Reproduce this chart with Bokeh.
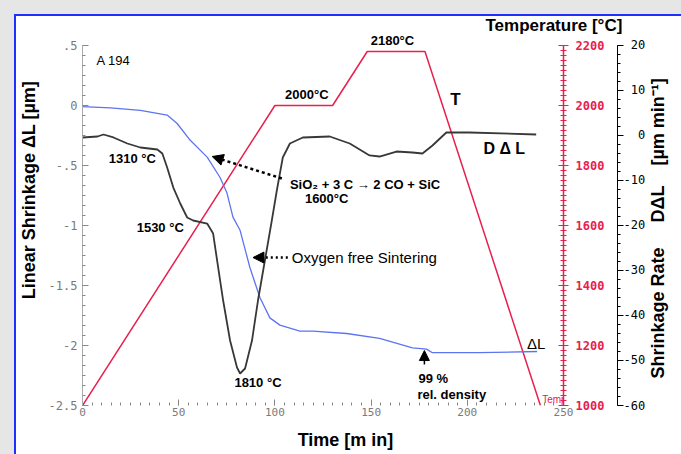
import math
from bokeh.plotting import figure
from bokeh.models import (Range1d, LinearAxis, SingleIntervalTicker, FixedTicker, Label,
                          Arrow, NormalHead, Title)
from bokeh.embed import file_html
from bokeh.resources import INLINE

# ---- data ----
time_temp = [0, 100, 130, 148, 178, 238]
temp_c = [1000, 2000, 2000, 2180, 2180, 1000]

time_dl = [0, 14.5, 30.1, 44.0, 49.2, 56.0, 64.8, 71.5, 75.1, 78.2, 81.9, 87.0, 92.2,
           97.4, 102.6, 113.0, 119.7, 137.3, 154.4, 171.5, 178.8, 181.9, 206.2, 236.3]
shrink_dl = [-0.01, -0.02, -0.04, -0.08, -0.15, -0.29, -0.43, -0.60, -0.73, -0.93, -1.04,
             -1.35, -1.60, -1.77, -1.83, -1.88, -1.88, -1.90, -1.94, -2.02, -2.03, -2.06,
             -2.06, -2.05]

time_rate = [0, 7.8, 10.9, 16.1, 23.3, 30.1, 38.9, 41.5, 44.0, 47.2, 50.8, 54.4, 57.5,
             64.8, 67.9, 70.5, 73.1, 76.7, 80.3, 81.9, 84.5, 88.1, 91.2, 94.8, 98.4, 101.0,
             104.1, 107.8, 114.5, 128.5, 138.9, 149.2, 154.4, 163.2, 171.5, 176.7, 181.9,
             189.1, 201.0, 235.8]
rate = [-0.44, -0.22, 0.22, -0.44, -1.78, -2.67, -3.11, -4.0, -7.11, -11.56, -15.11,
        -18.22, -18.89, -19.56, -21.78, -29.33, -36.67, -45.56, -51.56, -52.89, -51.78,
        -45.56, -36.67, -27.78, -18.89, -12.22, -4.89, -1.78, -0.44, -0.22, -1.78, -4.44,
        -4.67, -3.56, -3.78, -4.0, -2.22, 0.67, 0.67, 0.22]

left_tick_labels = {0.5: ".5", 0: "0", -0.5: "-.5", -1: "-1", -1.5: "-1.5", -2: "-2", -2.5: "-2.5"}
NB = "\u00a0"
rate_tick_labels = {20: NB + "20", 10: NB + "10", 0: NB + NB + "0", -10: "-10", -20: "-20",
                    -30: "-30", -40: "-40", -50: "-50", -60: "-60"}
rate_axis_title = "Shrinkage Rate" + NB * 5 + "DΔL" + NB * 4 + "[µm min⁻¹]"
shrink_axis_title = NB * 12 + "Linear Shrinkage ΔL [µm]"
time_axis_title = NB * 9 + "Time [m in]"

RED = "#e8204e"
BLUE = "#5c74f2"
DARK = "#383838"
GREY = "#7a7a7a"
SANS = "Liberation Sans"
MONO = "DejaVu Sans Mono"

# frame: x 82..563 px, y 34..405 px (axes bounded to the original ranges)
p = figure(width=681, height=454, x_range=Range1d(0, 250), y_range=Range1d(-2.5, 0.5917),
           output_backend="svg", toolbar_location=None,
           min_border_left=82, min_border_right=118, min_border_top=34, min_border_bottom=49)
p.extra_y_ranges = {"temp": Range1d(1000, 2236.67), "rate": Range1d(-60, 22.444)}
p.grid.visible = False
p.outline_line_color = None
p.border_fill_color = None
p.background_fill_color = "white"
p.styles = {
    "background": "linear-gradient(#ffffff, #ffffff) 16px 16px / 100% 100% no-repeat, "
                  "linear-gradient(#1f2fff, #1f2fff) 14px 14px / 100% 100% no-repeat, "
                  "#e6e6e6"
}

p.add_layout(Title(text="Temperature [°C]", align="left", offset=403, standoff=0,
                   text_font=SANS, text_font_size="17px", text_font_style="bold",
                   text_color="black"), "above")

# bottom axis
xa = p.xaxis[0]
xa.ticker = SingleIntervalTicker(interval=50, num_minor_ticks=10)
xa.axis_label = time_axis_title
xa.axis_label_text_font = SANS
xa.axis_label_text_font_style = "bold"
xa.axis_label_text_font_size = "18px"
xa.axis_label_text_color = "black"
xa.axis_label_standoff = 11
xa.major_label_text_font = MONO
xa.major_label_text_font_size = "11px"
xa.major_label_text_color = GREY
xa.major_label_standoff = 2
xa.major_tick_in = 6
xa.major_tick_out = 0
xa.minor_tick_in = 3
xa.minor_tick_out = 0
xa.axis_line_color = None
xa.major_tick_line_color = "#888888"
xa.minor_tick_line_color = "#888888"

# left axis
ya = p.yaxis[0]
ya.bounds = (-2.5, 0.5)
ya.ticker = SingleIntervalTicker(interval=0.5, num_minor_ticks=6)
ya.major_label_overrides = left_tick_labels
ya.axis_label = shrink_axis_title
ya.axis_label_text_font = SANS
ya.axis_label_text_font_style = "bold"
ya.axis_label_text_font_size = "18px"
ya.axis_label_text_color = "black"
ya.axis_label_standoff = 7
ya.major_label_text_font = MONO
ya.major_label_text_font_size = "12px"
ya.major_label_text_color = GREY
ya.major_label_standoff = 5
ya.major_tick_in = 6
ya.major_tick_out = 0
ya.minor_tick_in = 3
ya.minor_tick_out = 0
ya.axis_line_color = "#aaaaaa"
ya.major_tick_line_color = "#888888"
ya.minor_tick_line_color = "#888888"

# red temperature axis
ra = LinearAxis(y_range_name="temp", bounds=(1000, 2200),
                ticker=SingleIntervalTicker(interval=200, num_minor_ticks=12))
ra.axis_line_color = RED
ra.axis_line_width = 1.5
ra.major_tick_line_color = RED
ra.minor_tick_line_color = RED
ra.major_tick_in = 5
ra.major_tick_out = 5
ra.minor_tick_in = 3
ra.minor_tick_out = 3
ra.major_label_text_font = MONO
ra.major_label_text_font_style = "bold"
ra.major_label_text_font_size = "12px"
ra.major_label_text_color = RED
ra.major_label_standoff = 7
ra.axis_label = " "
ra.axis_label_text_font_size = "1px"
ra.axis_label_standoff = 6
p.add_layout(ra, "right")

# black shrinkage-rate axis
ba = LinearAxis(y_range_name="rate", bounds=(-60, 20),
                ticker=SingleIntervalTicker(interval=10, num_minor_ticks=5))
ba.major_label_overrides = rate_tick_labels
ba.axis_line_color = "black"
ba.major_tick_line_color = "black"
ba.minor_tick_line_color = "black"
ba.major_tick_in = 0
ba.major_tick_out = 6
ba.minor_tick_in = 0
ba.minor_tick_out = 3
ba.major_label_text_font = MONO
ba.major_label_text_font_size = "12px"
ba.major_label_text_color = "black"
ba.major_label_standoff = 0
p.add_layout(ba, "right")

# title of the shrinkage-rate axis, drawn as a single rotated tick label
la = LinearAxis(y_range_name="rate", ticker=FixedTicker(ticks=[-54], minor_ticks=[]))
la.major_label_overrides = {-54: rate_axis_title}
la.major_label_orientation = math.pi / 2
la.axis_line_color = None
la.major_tick_line_color = None
la.minor_tick_line_color = None
la.major_tick_in = 0
la.major_tick_out = 0
la.minor_tick_in = 0
la.minor_tick_out = 0
la.major_label_text_font = SANS
la.major_label_text_font_style = "bold"
la.major_label_text_font_size = "18px"
la.major_label_text_color = "black"
la.major_label_standoff = 10
p.add_layout(la, "right")

# curves
p.line(time_temp, temp_c, y_range_name="temp", line_color=RED, line_width=1.5)
p.line(time_dl, shrink_dl, line_color=BLUE, line_width=1.3)
p.line(time_rate, rate, y_range_name="rate", line_color=DARK, line_width=1.8)


def lab(x, y, text, size="13px", style="bold", align="center", color="black", angle=0.0,
        font=SANS):
    p.add_layout(Label(x=x, y=y, text=text, text_font=font, text_font_size=size,
                       text_font_style=style, text_align=align, text_baseline="middle",
                       text_color=color, angle=angle))


lab(7.3, 0.375, "A 194", size="13px", style="normal", align="left")
lab(116.6, 0.092, "2000°C", size="13px")
lab(161.1, 0.542, "2180°C", size="13px")
lab(193.8, 0.05, "T", size="17px")
lab(219.2, -0.358, "D Δ L", size="16px")
lab(235.8, -1.983, "ΔL", size="15px", style="normal")
lab(25.9, -0.442, "1310 °C")
lab(40.4, -1.017, "1530 °C")
lab(91.2, -2.308, "1810 °C")
lab(107.8, -0.658, "SiO₂ + 3 C → 2 CO + SiC", align="left")
lab(126.9, -0.775, "1600°C")
lab(108.8, -1.267, "Oxygen free Sintering", size="15px", style="normal", align="left")
lab(174.6, -2.275, "99 %", align="left")
lab(174.1, -2.408, "rel. density", align="left")
lab(238.9, -2.45, "Temp", size="10px", style="normal", align="left", color=RED)

# arrows
p.add_layout(Arrow(end=NormalHead(size=11, fill_color="black", line_color="black"),
                   x_start=103.6, y_start=-0.608, x_end=67.4, y_end=-0.425,
                   line_color="black", line_width=2.5, line_dash="3 3"))
p.add_layout(Arrow(end=NormalHead(size=11, fill_color="black", line_color="black"),
                   x_start=106.7, y_start=-1.267, x_end=88.6, y_end=-1.267,
                   line_color="black", line_width=2.5, line_dash="2 3"))
p.add_layout(Arrow(end=NormalHead(size=10, fill_color="black", line_color="black"),
                   x_start=177.7, y_start=-2.158, x_end=177.7, y_end=-2.042,
                   line_color="black", line_width=1.5))

open("out.html", "w").write(file_html(p, INLINE))
